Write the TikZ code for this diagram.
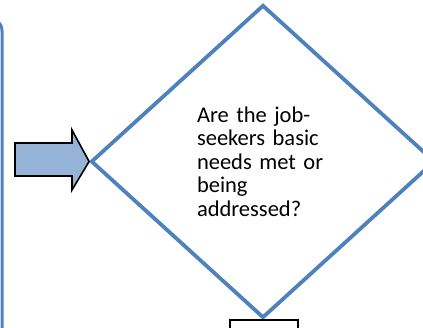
\documentclass[tikz,border=0pt]{standalone}
\usepackage{fontspec}
\setmainfont{Carlito}
\usepackage{tikz}
\usetikzlibrary{shapes.geometric, shapes.arrows, positioning}

\definecolor{flowblue}{RGB}{79,129,189}
\definecolor{arrowfill}{RGB}{149,179,215}

\tikzset{
    decision/.style={diamond, draw=flowblue, line width=3.8pt, minimum width=344pt, minimum height=313pt, inner sep=0pt, align=left, text width=132pt, font=\fontsize{22.5}{23.6}\selectfont},
    frame/.style={draw=flowblue, line width=3pt, rounded corners=14pt},
    stepbox/.style={draw=black, line width=1.8pt, fill=white}
}

\begin{document}
\begin{tikzpicture}[x=1pt, y=-1pt]
            \useasboundingbox (0,0) rectangle (423,328);
            \clip (0,0) rectangle (423,328);

            % box on the left, only its right edge shows
            \draw[frame] (-60,17) -- (2,17) -- (2,360);

            % the question
            \node[decision] (question) at (263,161.5) {Are the job-\\seekers basic\\needs met or\\being\\addressed?};

            % arrow coming in
            \coordinate (arrowtail) at (15,159.5);
            \draw[black, line width=1.6pt, fill=arrowfill, line join=miter]
                (arrowtail) ++(0,-16.5) -- (72,143) -- (72,130) -- (question.west) -- (72,190) -- (72,176) -- (15,176) -- cycle;

            % next step below
            \node[stepbox, anchor=north west, minimum width=68pt, minimum height=30pt] (nextstep) at (229,319) {};
        \end{tikzpicture}
\end{document}
